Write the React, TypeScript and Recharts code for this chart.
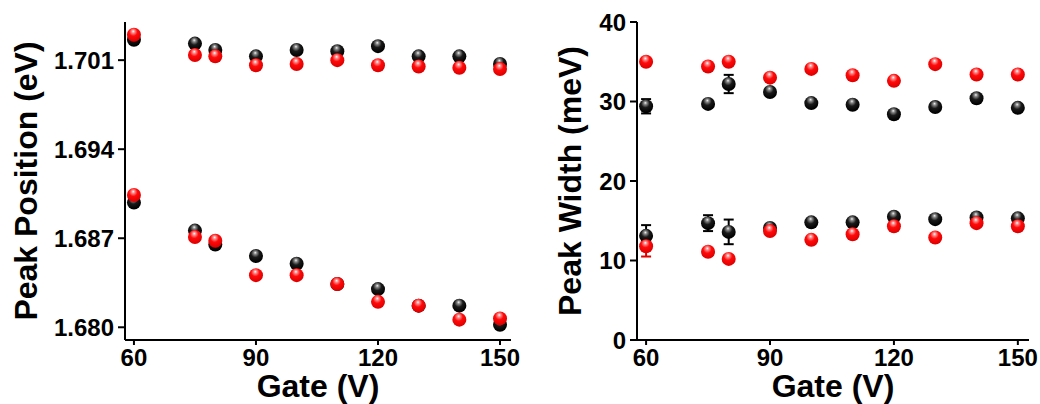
import { ScatterChart, Scatter, XAxis, YAxis, ErrorBar, Label } from "recharts";

const gate = [60, 75, 80, 90, 100, 110, 120, 130, 140, 150];

// Peak position (eV), two branches, two samples (black / red)
const posHighBlack = [1.7026, 1.7023, 1.7018, 1.7013, 1.7018, 1.7017, 1.7021, 1.7013, 1.7013, 1.7007];
const posHighRed = [1.703, 1.7014, 1.7013, 1.7006, 1.7007, 1.701, 1.7006, 1.7005, 1.7004, 1.7003];
const posLowBlack = [1.6898, 1.6876, 1.6865, 1.6856, 1.685, 1.6834, 1.683, 1.6817, 1.6817, 1.6802];
const posLowRed = [1.6904, 1.6871, 1.6868, 1.6841, 1.6841, 1.6834, 1.682, 1.6817, 1.6806, 1.6807];

// Peak width (meV)
const widthHighRed = [35.0, 34.4, 35.0, 33.0, 34.1, 33.3, 32.6, 34.7, 33.4, 33.4];
const widthHighBlack = [29.4, 29.7, 32.2, 31.2, 29.8, 29.6, 28.4, 29.3, 30.4, 29.2];
const widthHighBlackErr = [0.9, 0, 1.15, 0, 0, 0, 0, 0, 0, 0];
const widthLowBlack = [13.1, 14.7, 13.6, 14.1, 14.8, 14.8, 15.5, 15.2, 15.4, 15.3];
const widthLowBlackErr = [1.35, 1.0, 1.55, 0, 0, 0, 0, 0, 0, 0];
const widthLowRed = [11.8, 11.1, 10.2, 13.7, 12.6, 13.3, 14.3, 12.9, 14.7, 14.3];
const widthLowRedErr = [1.3, 0, 0, 0, 0, 0, 0, 0, 0, 0];

const posTicks = [1.68, 1.687, 1.694, 1.701];
const widthTicks = [0, 10, 20, 30, 40];
const gateTicks = [60, 90, 120, 150];

const FONT = "'Liberation Sans', Arial, sans-serif";
const X_DOMAIN: [number, number] = [57.8, 152.7];

const toPoints = (vals: number[], errs?: number[]) =>
  gate.map((g, i) => ({ gate: g, value: vals[i], err: errs ? errs[i] : 0 }));

function Sphere(props: any) {
  const { cx, cy, color } = props;
  if (cx == null || cy == null) return null;
  return <circle cx={cx} cy={cy} r={7} fill={color === "red" ? "url(#sphRed)" : "url(#sphBlack)"} />;
}

const tickStyle = { fill: "#000", fontSize: 24, fontWeight: 700, fontFamily: FONT };
const axisLine = { stroke: "#000", strokeWidth: 2 };
const tickLine = { stroke: "#000", strokeWidth: 2 };

function YTitle({ text, x }: { text: string; x: number }) {
  return (
    <Label
      content={(p: any) => {
        const vb = p.viewBox;
        const cy = vb.y + vb.height / 2;
        return (
          <text
            x={x}
            y={cy}
            transform={`rotate(-90, ${x}, ${cy})`}
            textAnchor="middle"
            dominantBaseline="central"
            style={{ fontSize: 32, fontWeight: 700, fontFamily: FONT, fill: "#000" }}
          >
            {text}
          </text>
        );
      }}
    />
  );
}

function XTitle() {
  return (
    <Label
      content={(p: any) => {
        const vb = p.viewBox;
        return (
          <text
            x={vb.x + vb.width / 2}
            y={vb.y + 57}
            textAnchor="middle"
            style={{ fontSize: 32, fontWeight: 700, fontFamily: FONT, fill: "#000" }}
          >
            Gate (V)
          </text>
        );
      }}
    />
  );
}

function Panel(props: {
  yDomain: [number, number];
  yTicks: number[];
  yFmt: (v: number) => string;
  yWidth: number;
  right: number;
  title: string;
  titleX: number;
  series: { data: any[]; color: string }[];
}) {
  const { yDomain, yTicks, yFmt, yWidth, right, title, titleX, series } = props;
  return (
    <ScatterChart width={520} height={404} margin={{ top: 22, right, bottom: 0, left: 0 }}>
      <XAxis
        xAxisId="top"
        orientation="top"
        type="number"
        dataKey="gate"
        domain={X_DOMAIN}
        ticks={gateTicks}
        allowDataOverflow
        height={0}
        tickSize={4}
        tick={false}
        axisLine={axisLine}
        tickLine={tickLine}
      />
      <XAxis
        type="number"
        dataKey="gate"
        domain={X_DOMAIN}
        ticks={gateTicks}
        allowDataOverflow
        height={64}
        tickSize={5}
        tickMargin={4}
        tick={tickStyle}
        axisLine={axisLine}
        tickLine={tickLine}
      >
        <XTitle />
      </XAxis>
      <YAxis
        type="number"
        dataKey="value"
        domain={yDomain}
        ticks={yTicks}
        tickFormatter={yFmt}
        allowDataOverflow
        width={yWidth}
        tickSize={7}
        tickMargin={4}
        tick={tickStyle}
        axisLine={axisLine}
        tickLine={tickLine}
      >
        <YTitle text={title} x={titleX} />
      </YAxis>
      <YAxis
        yAxisId="right"
        orientation="right"
        type="number"
        domain={yDomain}
        allowDataOverflow
        width={0}
        tick={false}
        tickLine={false}
        axisLine={axisLine}
      />
      {series.map((s, i) => (
        <Scatter
          key={i}
          data={s.data}
          isAnimationActive={false}
          shape={(p: any) => <Sphere {...p} color={s.color} />}
        >
          <ErrorBar dataKey="err" direction="y" width={5} strokeWidth={2} stroke={s.color === "red" ? "#e00000" : "#000"} />
        </Scatter>
      ))}
    </ScatterChart>
  );
}

export default function App() {
  return (
    <div style={{ position: "absolute", left: 0, top: 0, width: 1040, height: 404, background: "#fff" }}>
      <svg width={0} height={0} style={{ position: "absolute" }}>
        <defs>
          <radialGradient id="sphBlack" cx="45%" cy="35%" r="60%" fx="45%" fy="25%">
            <stop offset="0%" stopColor="#f4f4f4" />
            <stop offset="18%" stopColor="#8a8a8a" />
            <stop offset="50%" stopColor="#1a1a1a" />
            <stop offset="100%" stopColor="#000" />
          </radialGradient>
          <radialGradient id="sphRed" cx="45%" cy="35%" r="60%" fx="45%" fy="25%">
            <stop offset="0%" stopColor="#ffffff" />
            <stop offset="18%" stopColor="#ff9090" />
            <stop offset="50%" stopColor="#ff0a0a" />
            <stop offset="100%" stopColor="#e00000" />
          </radialGradient>
        </defs>
      </svg>
      <div style={{ position: "absolute", left: 0, top: 0 }}>
        <Panel
          yDomain={[1.679, 1.704]}
          yTicks={posTicks}
          yFmt={(v) => v.toFixed(3)}
          yWidth={125}
          right={9}
          title="Peak Position (eV)"
          titleX={26}
          series={[
            { data: toPoints(posHighBlack), color: "black" },
            { data: toPoints(posLowBlack), color: "black" },
            { data: toPoints(posHighRed), color: "red" },
            { data: toPoints(posLowRed), color: "red" },
          ]}
        />
      </div>
      <div style={{ position: "absolute", left: 520, top: 0 }}>
        <Panel
          yDomain={[0, 40]}
          yTicks={widthTicks}
          yFmt={(v) => String(v)}
          yWidth={117}
          right={11}
          title="Peak Width (meV)"
          titleX={50}
          series={[
            { data: toPoints(widthHighBlack, widthHighBlackErr), color: "black" },
            { data: toPoints(widthLowBlack, widthLowBlackErr), color: "black" },
            { data: toPoints(widthHighRed), color: "red" },
            { data: toPoints(widthLowRed, widthLowRedErr), color: "red" },
          ]}
        />
      </div>
    </div>
  );
}
